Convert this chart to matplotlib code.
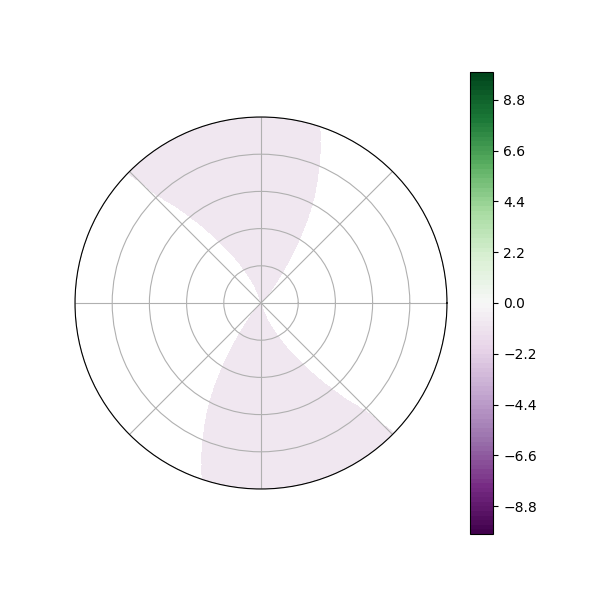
import numpy as np
import matplotlib
matplotlib.use("Agg")
import matplotlib.pyplot as plt

# boundary of the shaded (slightly negative) lobe
r_samples = [0.0, 0.2, 0.4, 0.6, 0.8, 1.0]
right_edge_deg = [50, 55, 59, 62.5, 67, 71.5]
left_edge_deg = [105, 117, 124.5, 129.5, 134, 135.8]
lobe_value = -0.9
level_min, level_max, n_levels = -10, 10, 101

theta = np.linspace(0, 2 * np.pi, 1441)
r = np.linspace(0, 1, 301)
T, R = np.meshgrid(theta, r)

right = np.interp(R, r_samples, right_edge_deg)
left = np.interp(R, r_samples, left_edge_deg)
ang = np.degrees(T) % 180
Z = np.where((ang >= right) & (ang <= left), lobe_value, np.nan)

levels = np.linspace(level_min, level_max, n_levels)

fig = plt.figure(figsize=(6, 6), dpi=100)
ax = fig.add_subplot(111, projection="polar")
cf = ax.contourf(T, R, Z, levels=levels, cmap="PRGn")
ax.set_ylim(0, 1)
ax.set_xticklabels([])
ax.set_yticklabels([])
ax.grid(True)
fig.colorbar(cf, ax=ax)

plt.savefig("out.png")
